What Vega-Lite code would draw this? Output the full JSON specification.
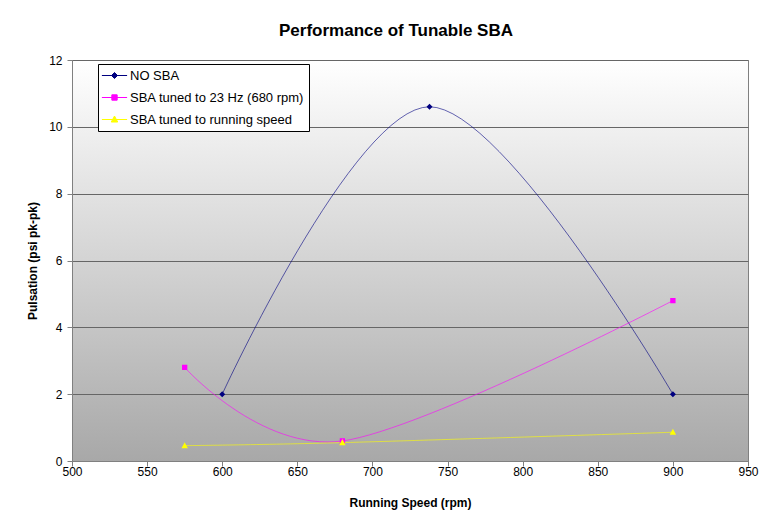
{
  "$schema": "https://vega.github.io/schema/vega-lite/v6.json",
  "width": 676,
  "height": 401,
  "autosize": {"type": "pad"},
  "padding": {"left": 26, "top": 22, "right": 16, "bottom": 5},
  "background": "white",
  "title": {"text": "Performance of Tunable SBA", "font": "Liberation Sans", "fontSize": 17, "fontWeight": "bold", "color": "black", "offset": 14, "dx": -14},
  "config": {
    "font": "Liberation Sans",
    "view": {
      "fill": {"gradient": "linear", "x1": 0, "y1": 0, "x2": 0, "y2": 1, "stops": [{"offset": 0, "color": "#ffffff"}, {"offset": 1, "color": "#a8a8a8"}]},
      "stroke": "#808080",
      "strokeWidth": 1
    }
  },
  "data": {
    "values": [
      {"series": "NO SBA", "rpm": 600, "psi": 2.0},
      {"series": "NO SBA", "rpm": 738, "psi": 10.6},
      {"series": "NO SBA", "rpm": 900, "psi": 2.0},
      {"series": "SBA tuned to 23 Hz (680 rpm)", "rpm": 575, "psi": 2.8},
      {"series": "SBA tuned to 23 Hz (680 rpm)", "rpm": 680, "psi": 0.6},
      {"series": "SBA tuned to 23 Hz (680 rpm)", "rpm": 900, "psi": 4.8},
      {"series": "SBA tuned to running speed", "rpm": 575, "psi": 0.46},
      {"series": "SBA tuned to running speed", "rpm": 680, "psi": 0.55},
      {"series": "SBA tuned to running speed", "rpm": 900, "psi": 0.86}
    ]
  },
  "encoding": {
    "x": {
      "field": "rpm", "type": "quantitative",
      "scale": {"domain": [500, 950], "nice": false, "zero": false},
      "axis": {"title": "Running Speed (rpm)", "values": [500, 550, 600, 650, 700, 750, 800, 850, 900, 950], "grid": false, "labelFlush": false, "domainColor": "#808080", "tickColor": "#808080", "tickSize": 5, "labelFontSize": 12, "labelColor": "black", "labelPadding": 0, "titleFontSize": 12, "titleFontWeight": "bold", "titleColor": "black", "titlePadding": 20}
    },
    "y": {
      "field": "psi", "type": "quantitative",
      "scale": {"domain": [0, 12], "nice": false},
      "axis": {"title": "Pulsation (psi pk-pk)", "values": [0, 2, 4, 6, 8, 10, 12], "grid": true, "gridColor": "#666666", "gridOpacity": 1, "domainColor": "#808080", "tickColor": "#808080", "tickSize": 5, "labelFontSize": 12, "labelColor": "black", "labelPadding": 5, "titleFontSize": 12, "titleFontWeight": "bold", "titleColor": "black", "titlePadding": 9}
    },
    "color": {
      "field": "series", "type": "nominal",
      "scale": {"domain": ["NO SBA", "SBA tuned to 23 Hz (680 rpm)", "SBA tuned to running speed"], "range": ["#000080", "#ff00ff", "#ffff00"]},
      "legend": {
        "title": null, "orient": "none", "legendX": 26, "legendY": 4,
        "strokeColor": "black", "fillColor": "white", "padding": 4,
        "labelFontSize": 13, "labelColor": "black", "labelFont": "Liberation Sans", "labelLimit": 300,
        "symbolOffset": 5, "labelOffset": 8, "rowPadding": 7, "cornerRadius": 0, "symbolSize": 196,
        "encode": {"symbols": {"update": {"stroke": {"scale": "color", "field": "value"}, "strokeWidth": {"value": 1}, "opacity": {"value": 1}}}}
      }
    }
  },
  "layer": [
    {
      "mark": {"type": "line", "interpolate": "cardinal", "strokeWidth": 1, "strokeOpacity": 0.6}
    },
    {
      "mark": {"type": "point", "filled": true, "size": 196, "opacity": 1},
      "encoding": {
        "shape": {
          "field": "series", "type": "nominal",
          "scale": {"domain": ["NO SBA", "SBA tuned to 23 Hz (680 rpm)", "SBA tuned to running speed"], "range": ["M-1.8,0H1.8M0,-0.43L0.43,0L0,0.43L-0.43,0Z", "M-1.8,0H1.8M-0.38,-0.38H0.38V0.38H-0.38Z", "M-1.8,0H1.8M0,-0.5L0.46,0.36L-0.46,0.36Z"]},
          "legend": {"title": null}
        }
      }
    }
  ]
}
